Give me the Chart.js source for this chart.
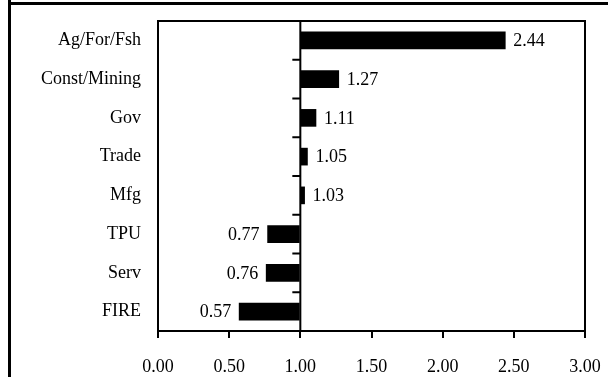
<!DOCTYPE html>
<html>
<head>
<meta charset="utf-8">
<script src="https://cdn.jsdelivr.net/npm/chart.js@4/dist/chart.umd.min.js"></script>
<style>
  html, body { margin: 0; padding: 0; background: #fff; }
  #wrap { position: relative; width: 608px; height: 377px; overflow: hidden; }
  #frameTop { position: absolute; left: 8px; top: 2px; width: 600px; height: 3px; background: #000; }
  #frameLeft { position: absolute; left: 8px; top: 0; width: 3px; height: 377px; background: #000; }
  canvas { position: absolute; left: 0; top: 0; }
</style>
</head>
<body>
<div id="wrap">
  <canvas id="myChart" width="608" height="377"></canvas>
  <div id="frameTop"></div>
  <div id="frameLeft"></div>
</div>
<script>
const categories = ['Ag/For/Fsh', 'Const/Mining', 'Gov', 'Trade', 'Mfg', 'TPU', 'Serv', 'FIRE'];
const values = [2.44, 1.27, 1.11, 1.05, 1.03, 0.77, 0.76, 0.57];
const xTicks = [0, 0.5, 1, 1.5, 2, 2.5, 3];
const baseValue = 1;

const font = { family: '"Liberation Serif", "Times New Roman", serif', size: 18 };

// frame, the 1.00 axis with its ticks, and value labels
const extras = {
    id: 'extras',
    afterDatasetsDraw(chart) {
        const { ctx, chartArea, scales } = chart;
        const x = scales.x, y = scales.y;
        ctx.save();
        ctx.strokeStyle = '#000';
        ctx.lineWidth = 2;
        ctx.strokeRect(chartArea.left, chartArea.top, chartArea.right - chartArea.left, chartArea.bottom - chartArea.top);

        const xb = x.getPixelForValue(baseValue);
        ctx.beginPath();
        ctx.moveTo(xb, chartArea.top);
        ctx.lineTo(xb, chartArea.bottom);
        for (let i = 0; i < categories.length - 1; i++) {
            const yy = (y.getPixelForValue(i) + y.getPixelForValue(i + 1)) / 2;
            ctx.moveTo(xb - 8, yy);
            ctx.lineTo(xb, yy);
        }
        ctx.stroke();

        ctx.fillStyle = '#000';
        ctx.font = font.size + 'px ' + font.family;
        ctx.textBaseline = 'middle';
        const meta = chart.getDatasetMeta(0);
        meta.data.forEach((bar, i) => {
            const v = values[i];
            const px = x.getPixelForValue(v);
            if (v >= baseValue) {
                ctx.textAlign = 'left';
                ctx.fillText(v.toFixed(2), px + 8, bar.y + 1);
            } else {
                ctx.textAlign = 'right';
                ctx.fillText(v.toFixed(2), px - 8, bar.y + 1);
            }
        });
        ctx.restore();
    }
};

const ctx = document.getElementById('myChart').getContext('2d');
new Chart(ctx, {
    type: 'bar',
    data: {
        labels: categories,
        datasets: [{
            data: values,
            base: baseValue,
            backgroundColor: '#000',
            borderWidth: 0,
            barThickness: 17
        }]
    },
    options: {
        indexAxis: 'y',
        responsive: false,
        animation: false,
        devicePixelRatio: 1,
        layout: { padding: { left: 0, right: 23, top: 21, bottom: 0 } },
        plugins: { legend: { display: false }, tooltip: { enabled: false } },
        scales: {
            x: {
                min: 0,
                max: 3,
                afterBuildTicks: (scale) => { scale.ticks = xTicks.map(v => ({ value: v })); },
                afterFit: (scale) => {
                    scale.height = 46;
                    scale.paddingLeft = 0;
                    scale.paddingRight = 0;
                },
                grid: { drawOnChartArea: false, drawTicks: true, tickLength: 7, color: '#000', lineWidth: 2 },
                border: { display: false },
                ticks: {
                    color: '#000',
                    font: font,
                    padding: 18,
                    maxRotation: 0,
                    callback: (v) => Number(v).toFixed(2)
                }
            },
            y: {
                afterFit: (scale) => {
                    scale.width = 158;
                    scale.paddingTop = 0;
                    scale.paddingBottom = 0;
                },
                grid: { display: false, drawTicks: false },
                border: { display: false },
                ticks: { color: '#000', font: font, padding: 17 }
            }
        }
    },
    plugins: [extras]
});
</script>
</body>
</html>
